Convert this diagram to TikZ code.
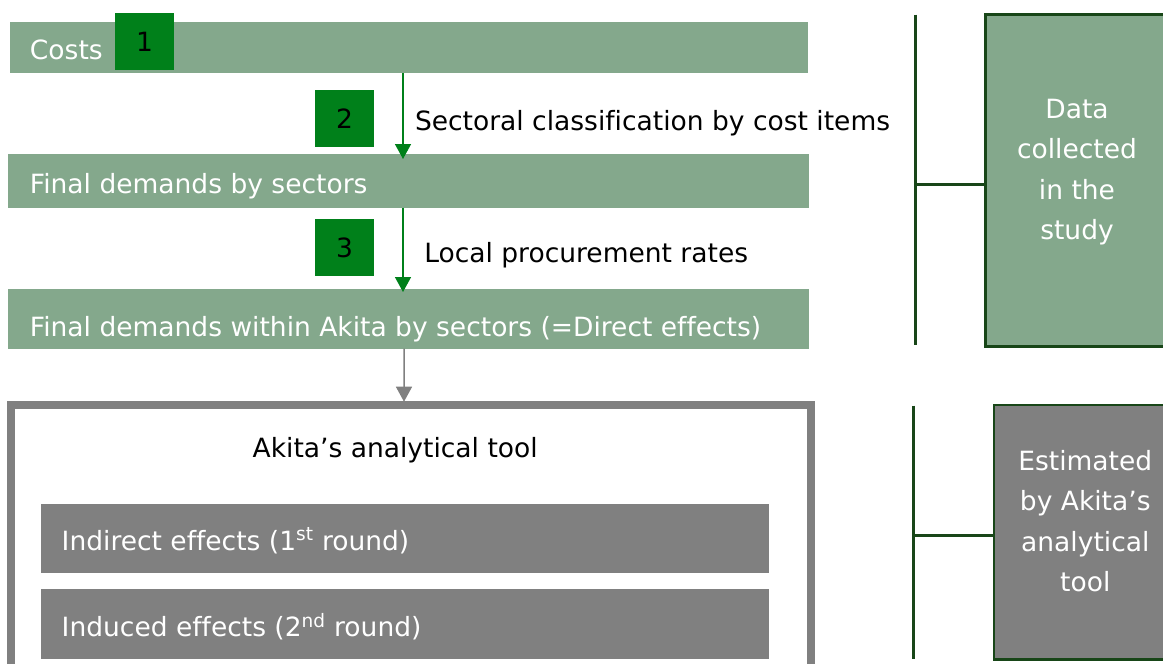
\documentclass[tikz,border=0pt]{standalone}
\usepackage{fontspec}
\setmainfont{DejaVu Sans}[Ligatures=NoCommon]
\usetikzlibrary{arrows.meta,calc}
\definecolor{barfill}{RGB}{132,168,140}
\definecolor{numfill}{RGB}{0,128,26}
\definecolor{dkgreen}{RGB}{24,70,24}
\definecolor{arrgreen}{RGB}{0,128,26}
\definecolor{toolgrey}{RGB}{128,128,128}
\newcommand\myfs{\fontsize{26.5pt}{40.5pt}\selectfont}
\begin{document}
\begin{tikzpicture}[x=1pt,y=-1pt,
  bar/.style={fill=barfill, draw=none, inner sep=0pt, outer sep=0pt, anchor=north west},
  gbox/.style={fill=toolgrey, draw=none, inner sep=0pt, outer sep=0pt, anchor=north west},
  numbox/.style={fill=numfill, draw=none, inner sep=0pt, outer sep=0pt, anchor=north west,
    minimum width=59pt, minimum height=57pt, font=\myfs, text=black},
  wtxt/.style={inner sep=0pt, outer sep=0pt, font=\myfs, text=white},
  btxt/.style={inner sep=0pt, outer sep=0pt, font=\myfs, text=black},
  garrow/.style={draw=arrgreen, line width=1.5pt, -{Triangle[width=16pt,length=15pt]}},
  grarrow/.style={draw=toolgrey, line width=1.5pt, -{Triangle[width=16pt,length=15pt]}},
  bracket/.style={draw=dkgreen, line width=2.7pt},
  sidebox/.style={draw=dkgreen, line width=2.7pt, inner sep=0pt, outer sep=0pt, anchor=north west}
]
\useasboundingbox (0,0) rectangle (1163,664);
\clip (0,0) rectangle (1163,664);

% bars
\node[bar, minimum width=798pt, minimum height=50.4pt] (costs) at (10,22.3) {};
\node[bar, minimum width=801pt, minimum height=53.7pt] (fd) at (8,154) {};
\node[bar, minimum width=801pt, minimum height=59.7pt] (fw) at (8,289) {};

\node[wtxt, anchor=base west] (costsT) at (30,59.3) {Costs};
\node[wtxt, anchor=base west] (fdT) at (30,193) {Final demands by sectors};
\node[wtxt, anchor=base west] (fwT) at (30,336) {Final demands within Akita by sectors (=Direct effects)};

% number boxes
\node[numbox] (n1) at (115,13.3) {1};
\node[numbox] (n2) at (315,90) {2};
\node[numbox] (n3) at (315,219) {3};

% labels
\node[btxt, anchor=base west] (l1) at (415,130) {Sectoral classification by cost items};
\node[btxt, anchor=base west] (l2) at (424.3,262) {Local procurement rates};

% arrows
\draw[garrow, shorten >=-5pt] ([xshift=-6pt]costs.south) -- ([xshift=-5.5pt]fd.north);
\draw[garrow, shorten >=-3pt] ([xshift=-5.5pt]fd.south) -- ([xshift=-5.5pt]fw.north);

% analytical tool box
\node[draw=toolgrey, line width=8pt, inner sep=0pt, outer sep=0pt, anchor=north west,
  minimum width=800.3pt, minimum height=320pt] (tool) at (10.7,405) {};
\draw[grarrow, shorten >=3.3pt] ([xshift=-4.5pt]fw.south) -- ([xshift=-6.85pt]tool.north);
\node[btxt, anchor=base west] (toolT) at (252.7,457.3) {Akita’s analytical tool};

\node[gbox, minimum width=728pt, minimum height=68.7pt] (ind) at (41,504) {};
\node[gbox, minimum width=728pt, minimum height=70.3pt] (indu) at (41,589) {};
\node[wtxt, anchor=base west] (indT) at (61.7,550) {Indirect effects (1\textsuperscript{st} round)};
\node[wtxt, anchor=base west] (induT) at (61.7,636.7) {Induced effects (2\textsuperscript{nd} round)};

% right side
\node[sidebox, fill=barfill, minimum width=300pt, minimum height=332pt] (data) at (985.3,14.7) {};
\node[wtxt, align=center] (dataT) at (1077,172.2) {Data\\collected\\in the\\study};
\coordinate (b1top) at (915.3,14.7);
\coordinate (b1bot) at (915.3,345);
\coordinate (b1mid) at (915.3,184.3);
\draw[bracket] (b1top) -- (b1bot);
\draw[bracket] (b1mid) -- (data.west |- b1mid);

\node[sidebox, fill=toolgrey, minimum width=300pt, minimum height=254.3pt] (est) at (994,405) {};
\node[wtxt, align=center] (estT) at (1085.3,521) {Estimated\\by Akita’s\\analytical\\tool};
\coordinate (b2top) at (913.7,405.7);
\coordinate (b2bot) at (913.7,659.3);
\coordinate (b2mid) at (913.7,535.7);
\draw[bracket] (b2top) -- (b2bot);
\draw[bracket] (b2mid) -- (est.west |- b2mid);
\end{tikzpicture}
\end{document}
